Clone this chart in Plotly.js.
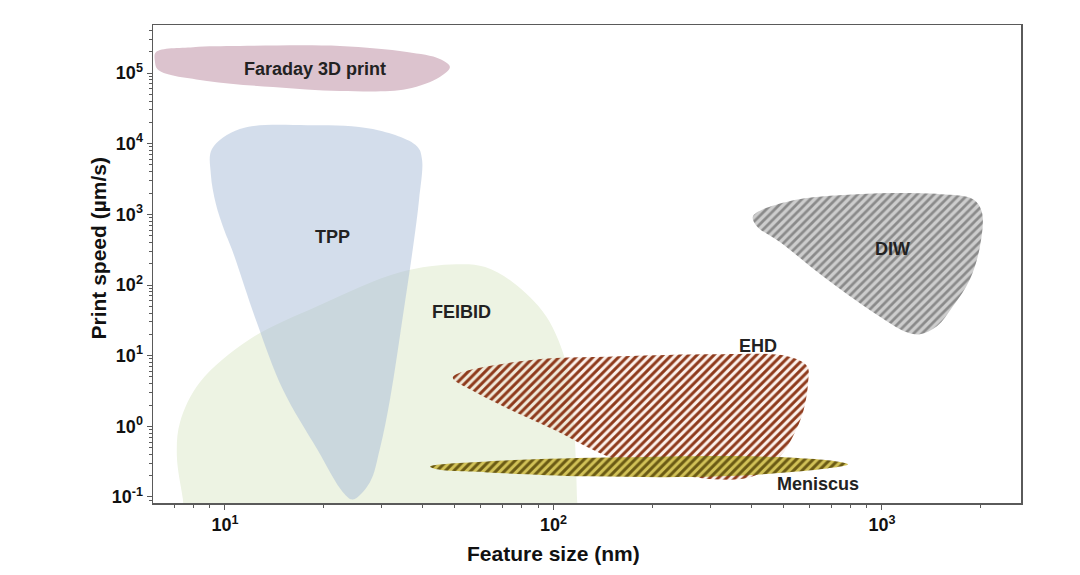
<!DOCTYPE html>
<html>
<head>
<meta charset="utf-8">
<script src="https://cdn.plot.ly/plotly-3.0.1.min.js"></script>
<style>html,body{margin:0;padding:0;background:#fff;}#chart{width:1080px;height:575px;}</style>
</head>
<body>
<div id="chart"></div>
<script>
// Region outlines: feature size (nm) and print speed (µm/s)
const faradayX = [6.17, 8.0, 11.1, 22.4, 35.8, 45.1, 48.4, 45.1, 35.8, 22.4, 14.0, 8.81, 6.27, 6.12, 6.17];
const faradayY = [198000, 232000, 241000, 241000, 198000, 158000, 122000, 87700, 59300, 55600, 63400, 77100, 110000, 148000, 198000];

const tppX = [9.13, 11.1, 17.8, 28.2, 38.4, 39.8, 39.0, 37.3, 34.8, 31.8, 29.6, 27.6, 24.5, 22.9, 19.1, 15.0, 12.5, 10.5, 9.93, 9.39, 9.06, 9.13];
const tppY = [8390, 16100, 18300, 16100, 9240, 6050, 1640, 321, 36.1, 2.41, 0.472, 0.161, 0.0925, 0.116, 0.472, 3.34, 29.7, 321, 617, 1390, 3710, 8390];

const feibidX = [7.6, 7.45, 7.14, 7.30, 8.39, 11.9, 19.1, 34.1, 50.8, 62.0, 75.0, 95.0, 110, 115, 118, 118, 7.6];
const feibidY = [0.048, 0.0925, 0.376, 1.14, 4.20, 17.1, 50.1, 152, 197, 180, 110, 36.1, 7.08, 1.39, 0.0925, 0.048, 0.048];

const diwX = [405, 525, 840, 1502, 1893, 2015, 1988, 1853, 1645, 1470, 1305, 1191, 940, 661, 490, 416, 405];
const diwY = [944, 1540, 1930, 1930, 1640, 1070, 355, 121, 50.1, 26.1, 20.1, 21.4, 41.2, 133, 404, 681, 944];

const ehdX = [49.4, 79.1, 159, 321, 514, 592, 596, 575, 536, 490, 405, 306, 201, 146, 99.6, 70.2, 55.7, 49.4];
const ehdY = [4.94, 8.33, 9.81, 10.5, 9.81, 7.08, 4.20, 1.58, 0.722, 0.376, 0.196, 0.178, 0.246, 0.376, 0.907, 1.92, 3.34, 4.94];

const meniscusX = [42.1, 62.8, 159, 405, 729, 789, 648, 321, 127, 62.8, 44.2, 42.1];
const meniscusY = [0.271, 0.319, 0.364, 0.376, 0.319, 0.290, 0.246, 0.196, 0.196, 0.223, 0.246, 0.271];

// Region labels
const labelText = ["Faraday 3D print", "TPP", "FEIBID", "DIW", "EHD", "Meniscus"];
const labelX = [18.8, 21.3, 52.6, 1079, 420, 638];
const labelY = [114000, 475, 41.2, 321, 13.6, 0.151];

// Tick labels and axis titles
const xTickVals = [10, 100, 1000];
const xTickText = ["10<sup>1</sup>", "10<sup>2</sup>", "10<sup>3</sup>"];
const yTickVals = [0.1, 1, 10, 100, 1000, 10000, 100000];
const yTickText = ["10<sup>-1</sup>", "10<sup>0</sup>", "10<sup>1</sup>", "10<sup>2</sup>", "10<sup>3</sup>", "10<sup>4</sup>", "10<sup>5</sup>"];
const xTitle = "Feature size (nm)";
const yTitle = "Print speed (µm/s)";

function minorVals(lo, hi) {
  const out = [];
  for (let e = lo; e <= hi; e++) for (let m = 2; m <= 9; m++) out.push(m * Math.pow(10, e));
  return out;
}

const FONT = "Arial, 'Liberation Sans', Helvetica, sans-serif";

function region(x, y, opts) {
  return Object.assign({
    type: "scatter", mode: "lines", x: x, y: y, fill: "toself",
    line: {width: 0, shape: "spline", smoothing: 1, color: "rgba(0,0,0,0)"},
    hoverinfo: "skip", showlegend: false
  }, opts);
}

const traces = [
  region(feibidX, feibidY, {fillcolor: "#edf3e3"}),
  region(tppX, tppY, {fillcolor: "rgba(168,188,216,0.5)"}),
  region(faradayX, faradayY, {fillcolor: "#dcc3ce"}),
  region(diwX, diwY, {fillcolor: "#c4c4c4",
    fillpattern: {shape: "/", bgcolor: "#cdcdcd", fgcolor: "#8a8a8a", size: 6, solidity: 0.45}}),
  region(ehdX, ehdY, {fillcolor: "rgba(0,0,0,0)",
    fillpattern: {shape: "/", bgcolor: "rgba(245,215,200,0.35)", fgcolor: "#8e3a1c", size: 6, solidity: 0.5}}),
  region(meniscusX, meniscusY, {fillcolor: "rgba(0,0,0,0)",
    fillpattern: {shape: "/", bgcolor: "#d2c257", fgcolor: "#6a5a14", size: 6, solidity: 0.5}})
];

const annotations = labelText.map((t, i) => ({
  x: Math.log10(labelX[i]), y: Math.log10(labelY[i]), xref: "x", yref: "y",
  text: t, showarrow: false, xanchor: "center", yanchor: "middle",
  font: {family: FONT, size: 18, color: "#222", weight: "bold"}
}));
annotations.push({
  x: 2, xref: "x", y: -0.105, yref: "paper", text: xTitle, showarrow: false,
  xanchor: "center", yanchor: "middle",
  font: {family: FONT, size: 21, color: "#111", weight: "bold"}
});
annotations.push({
  x: -0.063, xref: "paper", y: 0.533, yref: "paper", text: yTitle, showarrow: false, textangle: -90,
  xanchor: "center", yanchor: "middle",
  font: {family: FONT, size: 21, color: "#111", weight: "bold"}
});

const axisCommon = {
  type: "log", showgrid: false, zeroline: false,
  showline: true, linecolor: "#5a5a5a", linewidth: 1.5, mirror: true,
  ticks: "outside", ticklen: 5, tickwidth: 1, tickcolor: "#5a5a5a",
  tickfont: {family: FONT, size: 18, color: "#111", weight: "bold"}
};

const layout = {
  width: 1080, height: 575,
  margin: {l: 153, r: 59, t: 25, b: 72},
  paper_bgcolor: "#fff", plot_bgcolor: "#fff",
  xaxis: Object.assign({}, axisCommon, {
    range: [Math.log10(6.04), Math.log10(2650)],
    tickmode: "array", tickvals: xTickVals, ticktext: xTickText,
    minor: {ticks: "outside", ticklen: 3, tickcolor: "#5a5a5a", tickmode: "array", tickvals: minorVals(0, 3)}
  }),
  yaxis: Object.assign({}, axisCommon, {
    range: [-1.085, 5.68],
    tickmode: "array", tickvals: yTickVals, ticktext: yTickText,
    minor: {ticks: "outside", ticklen: 3, tickcolor: "#5a5a5a", tickmode: "array", tickvals: minorVals(-2, 5)}
  }),
  annotations: annotations
};

Plotly.newPlot("chart", traces, layout, {displayModeBar: false, staticPlot: true});
</script>
</body>
</html>
